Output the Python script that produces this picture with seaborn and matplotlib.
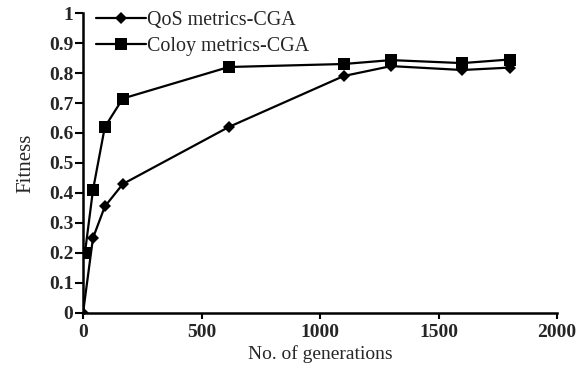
import matplotlib
matplotlib.use("Agg")
import matplotlib.pyplot as plt
import seaborn as sns
import pandas as pd

generations_qos = [0, 42, 92, 168, 615, 1100, 1300, 1600, 1800]
fitness_qos = [0.0, 0.25, 0.355, 0.43, 0.62, 0.79, 0.823, 0.81, 0.818]
generations_coloy = [8, 42, 92, 168, 615, 1100, 1300, 1600, 1800]
fitness_coloy = [0.2, 0.41, 0.62, 0.715, 0.82, 0.83, 0.843, 0.833, 0.845]
series_names = ["QoS metrics-CGA", "Coloy metrics-CGA"]
x_ticks = [0, 500, 1000, 1500, 2000]
y_ticks = [0, 0.1, 0.2, 0.3, 0.4, 0.5, 0.6, 0.7, 0.8, 0.9, 1]
y_tick_labels = ["0", "0.1", "0.2", "0.3", "0.4", "0.5", "0.6", "0.7", "0.8", "0.9", "1"]

df = pd.concat([
    pd.DataFrame({"gen": generations_qos, "fit": fitness_qos, "series": series_names[0]}),
    pd.DataFrame({"gen": generations_coloy, "fit": fitness_coloy, "series": series_names[1]}),
])

sns.set_style("ticks")
plt.rcParams["font.family"] = ["Liberation Serif", "DejaVu Serif"]

fig = plt.figure(figsize=(5.79, 3.76), dpi=100)
ax = fig.add_axes([0.1434, 0.1676, 0.8186, 0.7978])

sns.lineplot(data=df, x="gen", y="fit", hue="series", style="series",
             palette=["black", "black"], markers={series_names[0]: "D", series_names[1]: "s"},
             dashes=False, markersize=8.5, markeredgewidth=0, linewidth=1.6,
             sort=False, ax=ax)
for line in ax.lines:
    if line.get_marker() == "D":
        line.set_markersize(6.5)

ax.set_xlim(0, 2000)
ax.set_ylim(0, 1)
ax.set_xticks(x_ticks)
ax.set_yticks(y_ticks)
ax.set_yticklabels(y_tick_labels)
for lbl in ax.get_xticklabels() + ax.get_yticklabels():
    lbl.set_fontweight("bold")
    lbl.set_fontsize(14)
ax.tick_params(axis="y", direction="out", length=6, width=1.5, color="black", pad=1)
ax.tick_params(axis="x", direction="out", length=4, width=1.5, color="black", pad=4)
sns.despine(ax=ax)
for s in ["left", "bottom"]:
    ax.spines[s].set_linewidth(1.8)
    ax.spines[s].set_color("black")

ax.set_xlabel("No. of generations", fontsize=14, labelpad=3)
ax.set_ylabel("Fitness", fontsize=15, labelpad=10)

leg = ax.legend(loc="upper left", frameon=False, fontsize=14.4, handlelength=2.5,
                borderaxespad=0.0, labelspacing=0.35, handletextpad=0.05,
                bbox_to_anchor=(0.01, 1.035))
for h in leg.legend_handles:
    h.set_color("black")

fig.savefig("out.png", dpi=100)
